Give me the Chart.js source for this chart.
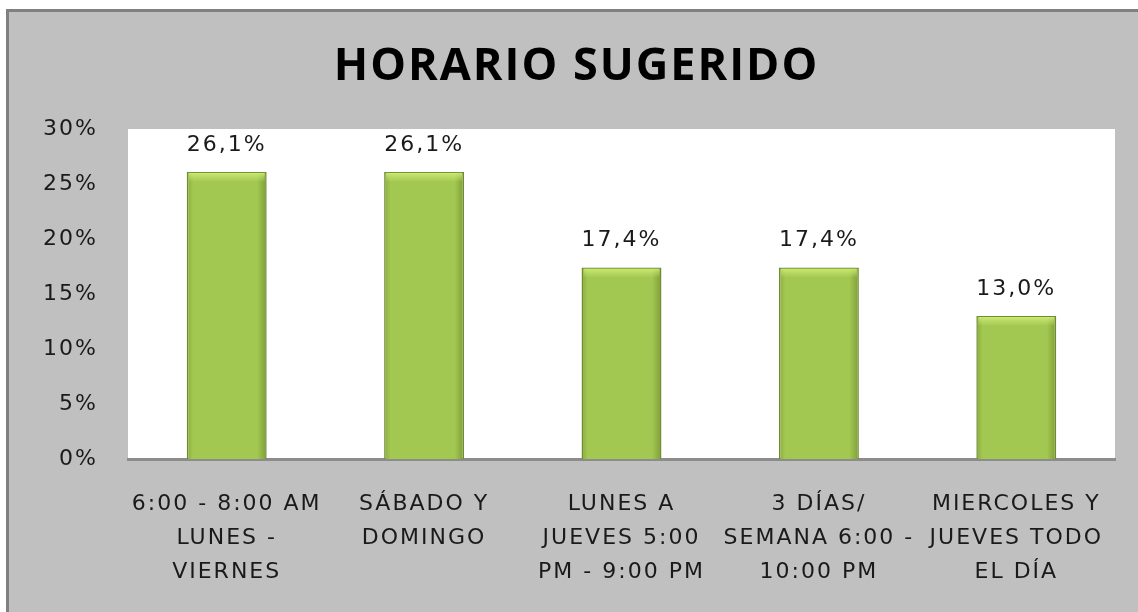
<!DOCTYPE html>
<html>
<head>
<meta charset="utf-8">
<script src="https://cdn.jsdelivr.net/npm/chart.js@4.4.0/dist/chart.umd.min.js"></script>
<style>
  html, body { margin: 0; padding: 0; background: #ffffff; }
  #chart { display: block; }
</style>
</head>
<body>
<canvas id="chart" width="1138" height="612"></canvas>
<script>
// data
const categories = [
  ["6:00 - 8:00 AM", "LUNES -", "VIERNES"],
  ["SÁBADO Y", "DOMINGO"],
  ["LUNES A", "JUEVES 5:00", "PM - 9:00 PM"],
  ["3 DÍAS/", "SEMANA 6:00 -", "10:00 PM"],
  ["MIERCOLES Y", "JUEVES TODO", "EL DÍA"]
];
const percentages = [26.1, 26.1, 17.4, 17.4, 13.0];
const yMin = 0;
const yMax = 30;
const yStep = 5;

const tickFont = { family: "'DejaVu Sans', sans-serif", size: 22 };

/* letter spacing gets lost whenever the canvas resets, so put it back */
const spacingPlugin = {
  id: "spacing",
  beforeUpdate(chart) { chart.ctx.letterSpacing = "2px"; },
  beforeDraw(chart) { chart.ctx.letterSpacing = "2px"; }
};

/* grey frame + white plot area */
const backgroundPlugin = {
  id: "background",
  beforeDraw(chart) {
    const ctx = chart.ctx;
    const area = chart.chartArea;
    ctx.save();
    ctx.fillStyle = "#c0c0c0";
    ctx.fillRect(6, 9, chart.width - 6, chart.height - 9);
    ctx.fillStyle = "#808080";
    ctx.fillRect(6, 9, 3, chart.height - 9);
    ctx.fillRect(6, 9, chart.width - 6, 3);
    ctx.fillStyle = "#ffffff";
    ctx.fillRect(area.left, area.top, area.right - area.left, area.bottom - area.top);
    ctx.restore();
  }
};

/* bevelled look: darker sides */
function barFill(context) {
  const chart = context.chart;
  const bar = chart.getDatasetMeta(0).data[context.dataIndex];
  if (!bar || !bar.width || isNaN(bar.x)) {
    return "#a2c64f";
  }
  const half = bar.width / 2;
  const g = chart.ctx.createLinearGradient(bar.x - half, 0, bar.x + half, 0);
  g.addColorStop(0, "#8aab3e");
  g.addColorStop(0.08, "#a3c852");
  g.addColorStop(0.88, "#a3c852");
  g.addColorStop(1, "#7e9d36");
  return g;
}

/* value labels above the bars */
const valueLabels = {
  id: "valueLabels",
  afterDatasetsDraw(chart) {
    const ctx = chart.ctx;
    const meta = chart.getDatasetMeta(0);
    ctx.save();
    ctx.font = "22px 'DejaVu Sans', sans-serif";
    ctx.textAlign = "center";
    ctx.textBaseline = "middle";
    meta.data.forEach(function (bar, i) {
      // light bevel on the top edge
      let top = ctx.createLinearGradient(0, bar.y, 0, bar.y + 10);
      top.addColorStop(0, "rgba(210,240,120,0.9)");
      top.addColorStop(1, "rgba(210,240,120,0)");
      ctx.fillStyle = top;
      ctx.fillRect(bar.x - bar.width / 2 + 2, bar.y + 1, bar.width - 4, 10);
      ctx.fillStyle = "#1a1a1a";
      let txt = percentages[i].toFixed(1).replace(".", ",") + "%";
      ctx.fillText(txt, bar.x, bar.y - 27);
    });
    ctx.restore();
  }
};

const chart = new Chart(document.getElementById("chart"), {
  type: "bar",
  data: {
    labels: categories,
    datasets: [
      {
        data: percentages,
        backgroundColor: barFill,
        borderColor: "#6f8c30",
        borderWidth: 1.5,
        categoryPercentage: 1.0,
        barPercentage: 0.405
      }
    ]
  },
  options: {
    responsive: false,
    animation: false,
    layout: { padding: { left: 38, right: 23, top: 0, bottom: 0 } },
    plugins: {
      legend: { display: false },
      tooltip: { enabled: false },
      title: {
        display: true,
        text: "HORARIO SUGERIDO",
        color: "#000000",
        font: { family: "'Open Sans', sans-serif", size: 45, weight: "bold", lineHeight: 1.2 },
        padding: { top: 40, bottom: 35 }
      }
    },
    scales: {
      x: {
        grid: { display: false, drawTicks: false },
        border: { display: true, color: "#8c8c8c", width: 3 },
        ticks: {
          color: "#1a1a1a",
          font: Object.assign({ lineHeight: 1.55 }, tickFont),
          padding: 28,
          maxRotation: 0,
          autoSkip: false
        },
        afterFit(scale) { scale.height = 153; }
      },
      y: {
        min: yMin,
        max: yMax,
        grid: { display: false, drawTicks: false },
        border: { display: false },
        ticks: {
          stepSize: yStep,
          color: "#1a1a1a",
          font: tickFont,
          padding: 30,
          callback: function (value) { return value + "%"; }
        },
        afterFit(scale) { scale.width = 90; }
      }
    }
  },
  plugins: [spacingPlugin, backgroundPlugin, valueLabels]
});
// second pass so the gradients know where the bars are
chart.update();
</script>
</body>
</html>
